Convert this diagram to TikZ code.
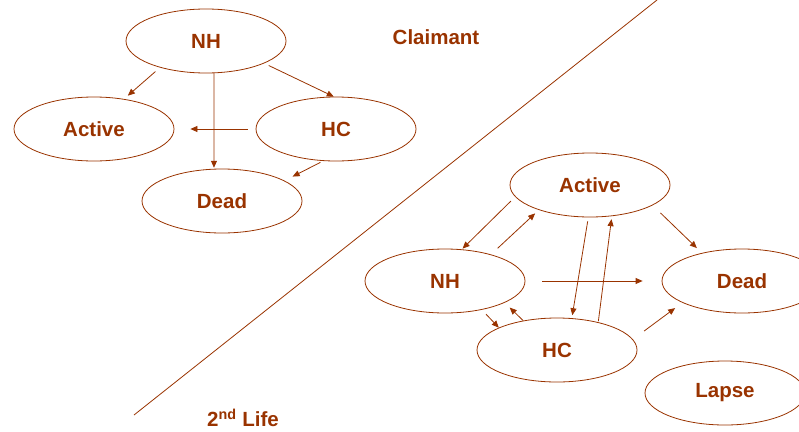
\documentclass[tikz,border=0pt]{standalone}
\usepackage{fontspec}
\setmainfont{Liberation Sans}
\usepackage{tikz}
\usetikzlibrary{arrows.meta}
\usetikzlibrary{shapes.geometric}
\definecolor{rust}{RGB}{153,51,0}

\begin{document}
\begin{tikzpicture}[x=1pt,y=-1pt,
		ell/.style={ellipse, draw=rust, line width=0.8pt, minimum width=160pt, minimum height=64pt, inner sep=0pt, text=rust, font=\fontsize{20.5}{24}\selectfont\bfseries},
		lbl/.style={text=rust, font=\fontsize{20.5}{24}\selectfont\bfseries},
		arr/.style={draw=rust, line width=0.8pt, arrows={-{Triangle[length=7pt,width=6pt]}}}]
		\useasboundingbox (0,0) rectangle (799,431);
		% claimant
		\node[ell] (nh) at (206,41) {NH};
		\node[ell] (act) at (94,129) {Active};
		\node[ell] (hc) at (336,129) {HC};
		\node[ell] (dead) at (222,201) {Dead};
		\node[lbl] (claim) at (436,37) {Claimant};
		% 2nd life
		\node[ell] (act2) at (590,185) {Active};
		\node[ell] (nh2) at (445,281) {NH};
		\node[ell] (dead2) at (742,281) {Dead};
		\node[ell] (hc2) at (557,350) {HC};
		\node[ell] (lapse) at (725,393) {Lapse};
		\node[lbl] (life) at (243,418) {2\textsuperscript{nd} Life};
		\draw [rust, line width=0.8pt] (134,415) -- (657,0);
		\foreach \a/\b/\s/\e in {nh.210/act.45/6/5, nh.-21/hc.94/5/0, nh.-76/dead.104/0/1, hc.180/act.0/8/16, hc.248/dead.18/3/9} {
			\draw [arr, shorten <=\s pt, shorten >=\e pt] (\a) -- (\b);
		}
		\foreach \a/\b/\s/\e in {act2.189/nh2.62/6/1, nh2.30/act2.206/9/5, act2.-93/hc2.65/4/3, hc2.34/act2.-55/1/3, act2.-18/dead2.145/11/7, nh2.0/dead2.180/17/19, nh2.-38/hc2.159/6/0, hc2.139/nh2.-20/0/7, hc2.8/dead2.200/14/9} {
			\draw [arr, shorten <=\s pt, shorten >=\e pt] (\a) -- (\b);
		}
\end{tikzpicture}
\end{document}
